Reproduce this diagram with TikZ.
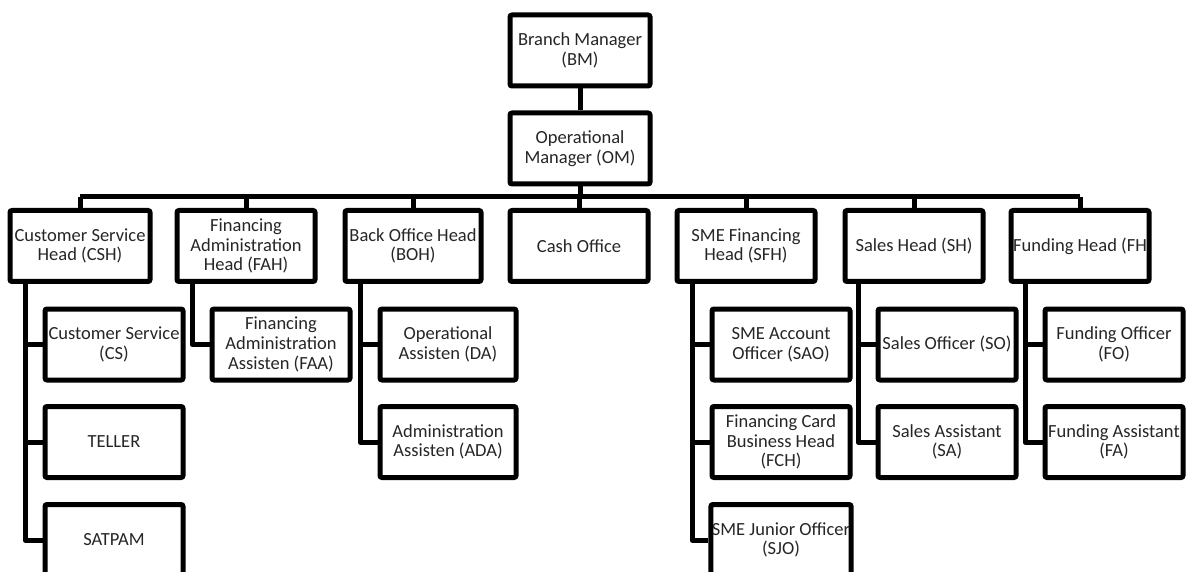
\documentclass[tikz,border=0pt]{standalone}
\usepackage{fontspec}
\setmainfont{Carlito}
\usetikzlibrary{calc}
\begin{document}
\begin{tikzpicture}[x=1pt,y=-1pt,
  box/.style={draw=black,line width=5pt,rounded corners=2pt,minimum width=138pt,minimum height=71pt,
    inner sep=1pt,align=center,font=\fontsize{18.5}{19.6}\selectfont,text=black!85},
  wire/.style={draw=black,line width=5pt,line join=round}]
\useasboundingbox (0,0) rectangle (1192,572);
\fill[white] (0,0) rectangle (1192,572);
\clip (0,0) rectangle (1192,572);
% top
\node[box,minimum width=140pt] (BM) at (580,50.5) {Branch Manager\\(BM)};
\node[box,minimum width=140pt] (OM) at (580,148.5) {Operational\\Manager (OM)};
% level 1
\node[box,minimum width=140pt] (CSH) at (80,246) {Customer Service\\Head (CSH)};
\node[box] (FAH) at (246,246) {Financing\\Administration\\Head (FAH)};
\node[box,minimum width=136pt] (BOH) at (413,246) {Back Office Head\\(BOH)};
\node[box] (CO) at (579,246) {Cash Office};
\node[box] (SFH) at (746,246) {SME Financing\\Head (SFH)};
\node[box] (SH) at (914,246) {Sales Head (SH)};
\node[box] (FH) at (1080,246) {Funding Head (FH};
% level 2
\node[box] (CS) at (114,344.5) {Customer Service\\(CS)};
\node[box] (TE) at (114,442) {TELLER};
\node[box] (SP) at (114,540) {SATPAM};
\node[box] (FAA) at (281,344.5) {Financing\\Administration\\Assisten (FAA)};
\node[box,minimum width=136pt] (DA) at (448,344.5) {Operational\\Assisten (DA)};
\node[box,minimum width=136pt] (ADA) at (448,442) {Administration\\Assisten (ADA)};
\node[box] (SAO) at (781,344.5) {SME Account\\Officer (SAO)};
\node[box] (FCH) at (781,442) {Financing Card\\Business Head\\(FCH)};
\node[box] (SJO) at (781,540) {SME Junior Officer\\(SJO)};
\node[box] (SO) at (947,344.5) {Sales Officer (SO)};
\node[box] (SA) at (947,442) {Sales Assistant\\(SA)};
\node[box] (FO) at (1114,344.5) {Funding Officer\\(FO)};
\node[box] (FA) at (1114,442) {Funding Assistant\\(FA)};
% bus
\coordinate (bus) at (0,197);
\draw[wire] (BM) -- (OM);
\draw[wire] (OM.south) -- (OM.south |- bus);
\draw[wire] (CSH.north |- bus) -- (FH.north |- bus);
\foreach \n in {CSH,FAH,BOH,CO,SFH,SH,FH}
  \draw[wire] (\n.north) -- (\n.north |- bus);
% spines
\coordinate (sCSH) at (25,284);
\coordinate (sFAH) at (192,284);
\coordinate (sBOH) at (360,284);
\coordinate (sSFH) at (692,284);
\coordinate (sSH) at (858,284);
\coordinate (sFH) at (1025,284);
\draw[wire] (sCSH) |- (SP.west);
\draw[wire] (CS.west) -- (CS.west -| sCSH);
\draw[wire] (TE.west) -- (TE.west -| sCSH);
\draw[wire] (sFAH) |- (FAA.west);
\draw[wire] (sBOH) |- (ADA.west);
\draw[wire] (DA.west) -- (DA.west -| sBOH);
\draw[wire] (sSFH) |- (SJO.west);
\draw[wire] (SAO.west) -- (SAO.west -| sSFH);
\draw[wire] (FCH.west) -- (FCH.west -| sSFH);
\draw[wire] (sSH) |- (SA.west);
\draw[wire] (SO.west) -- (SO.west -| sSH);
\draw[wire] (sFH) |- (FA.west);
\draw[wire] (FO.west) -- (FO.west -| sFH);
\end{tikzpicture}
\end{document}
